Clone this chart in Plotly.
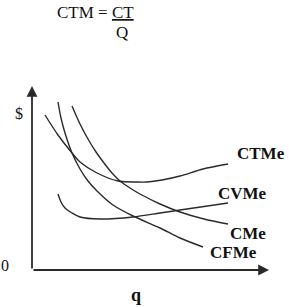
import plotly.graph_objects as go

# Schematic cost curves (q on x, $ on y)
ctme_q = [13, 26, 40, 48, 65, 86, 105, 115, 130, 148, 171, 196]
ctme_y = [155, 135, 117, 108, 97, 89, 88, 88, 90, 94, 101, 106]

cfme_q = [26, 29, 33, 40, 48, 56, 65, 81, 101, 128, 148, 171]
cfme_y = [168, 152, 137, 117, 101, 89, 79, 65, 54, 42, 32, 23]

cme_q = [40, 48, 56, 64, 72, 80, 88, 98, 108, 128, 148, 172, 196]
cme_y = [164, 146, 131, 118, 107, 97, 89, 82, 76, 66, 58, 51, 46]

cvme_q = [26, 29, 33, 40, 48, 68, 101, 128, 148, 196]
cvme_y = [76, 68, 62, 57, 53, 51, 53, 57, 60, 67]

labels = ["CTMe", "CVMe", "CMe", "CFMe"]
label_q = [229, 210, 216, 201]
label_y = [117, 77, 37, 18]

LINE = "#2a2a2a"
FONT = "Liberation Serif"

fig = go.Figure()
for q, y in [(ctme_q, ctme_y), (cfme_q, cfme_y), (cme_q, cme_y), (cvme_q, cvme_y)]:
    fig.add_trace(go.Scatter(x=q, y=y, mode="lines",
                             line=dict(color=LINE, width=1.4, shape="spline", smoothing=0.8),
                             hoverinfo="skip", showlegend=False))

# Axes with arrows
fig.add_annotation(x=0, y=184, ax=0, ay=0, axref="x", ayref="y", xref="x", yref="y",
                   text="", showarrow=True, arrowhead=2, arrowsize=1.2, arrowwidth=1.8,
                   arrowcolor=LINE)
fig.add_annotation(x=237, y=0, ax=0, ay=0, axref="x", ayref="y", xref="x", yref="y",
                   text="", showarrow=True, arrowhead=2, arrowsize=1.2, arrowwidth=1.8,
                   arrowcolor=LINE)

for t, q, y in zip(labels, label_q, label_y):
    fig.add_annotation(x=q, y=y, text="<b>" + t + "</b>", showarrow=False,
                       font=dict(family=FONT, size=17, color="#111"))

fig.add_annotation(x=-13, y=157, text="$", showarrow=False,
                   font=dict(family=FONT, size=16, color="#111"))
fig.add_annotation(x=-27, y=5, text="0", showarrow=False,
                   font=dict(family=FONT, size=16, color="#111"))
fig.add_annotation(x=104, y=-25, text="<b>q</b>", showarrow=False,
                   font=dict(family=FONT, size=18, color="#111"))

# Formula
fig.add_annotation(x=63, y=258, text="CTM = <u>CT</u>", showarrow=False,
                   font=dict(family=FONT, size=17, color="#111"))
fig.add_annotation(x=90, y=238, text="Q", showarrow=False,
                   font=dict(family=FONT, size=17, color="#111"))

fig.update_xaxes(range=[-32, 257], visible=False, fixedrange=True)
fig.update_yaxes(range=[-37, 270], visible=False, fixedrange=True)
fig.update_layout(width=289, height=307, margin=dict(l=0, r=0, t=0, b=0),
                  paper_bgcolor="white", plot_bgcolor="white")

fig.write_html("out.html")
